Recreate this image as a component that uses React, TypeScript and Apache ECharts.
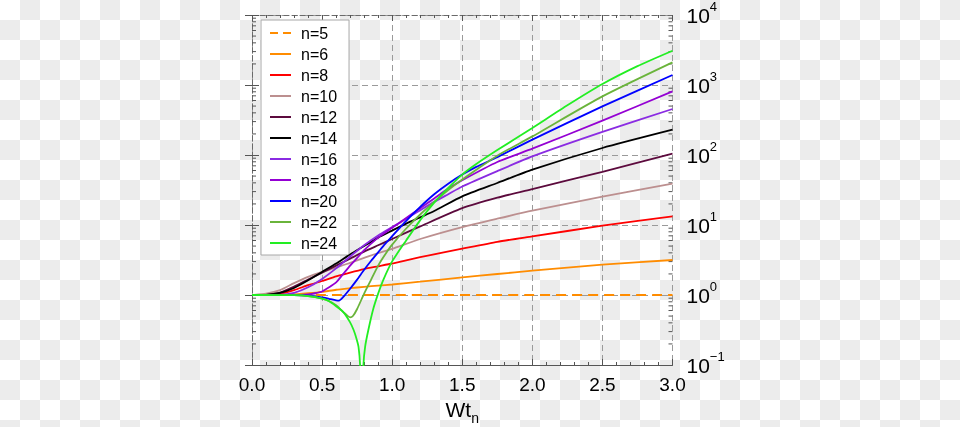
import React, { useEffect, useRef } from 'react';
import * as echarts from 'echarts';

// ---- data (x = W t_n, y = value on log scale) ----
const seriesNames = ['n=5', 'n=6', 'n=8', 'n=10', 'n=12', 'n=14', 'n=16', 'n=18', 'n=20', 'n=22', 'n=24'];
const seriesColors = ['#ff8c00', '#ff8c00', '#ff0000', '#bc8f8f', '#5c0a3d', '#000000', '#8a2be2', '#9400d3', '#0000ff', '#6ab43b', '#22ee22'];

const n5: [number, number][] = [[0, 1], [3, 1]];
const n6: [number, number][] = [[0, 1], [0.1, 1], [0.2, 1.007], [0.3, 1.023], [0.4, 1.059], [0.5, 1.109], [0.6, 1.189], [0.7, 1.25], [0.8, 1.309], [0.9, 1.361], [1.0, 1.413], [1.2, 1.549], [1.5, 1.786], [1.75, 1.995], [2.0, 2.223], [2.5, 2.71], [3.0, 3.162]];
const n8: [number, number][] = [[0, 1], [0.1, 1.005], [0.2, 1.047], [0.3, 1.175], [0.4, 1.38], [0.5, 1.585], [0.6, 1.841], [0.7, 2.089], [0.8, 2.344], [0.9, 2.57], [1.0, 2.818], [1.2, 3.467], [1.5, 4.581], [1.75, 5.754], [2.0, 6.871], [2.5, 9.772], [3.0, 13.27]];
const n10: [number, number][] = [[0, 1], [0.1, 1.047], [0.2, 1.175], [0.3, 1.479], [0.4, 1.82], [0.5, 2.138], [0.6, 2.455], [0.7, 2.884], [0.8, 3.388], [0.9, 3.981], [1.0, 4.571], [1.2, 6.31], [1.5, 9.333], [1.75, 12.3], [2.0, 16.0], [2.5, 25.35], [3.0, 38.9]];
const n12: [number, number][] = [[0, 1], [0.1, 1.007], [0.2, 1.084], [0.3, 1.318], [0.4, 1.66], [0.5, 2.089], [0.6, 2.63], [0.7, 3.311], [0.8, 4.169], [0.9, 5.129], [1.0, 6.31], [1.2, 9.55], [1.5, 17.38], [1.75, 24.55], [2.0, 32.66], [2.5, 57.54], [3.0, 104.5]];
const n14: [number, number][] = [[0, 1], [0.1, 1.007], [0.2, 1.072], [0.3, 1.259], [0.4, 1.622], [0.5, 2.138], [0.6, 2.818], [0.7, 3.802], [0.8, 5.012], [0.9, 6.607], [1.0, 8.318], [1.1, 10.47], [1.2, 12.88], [1.3, 15.85], [1.5, 25.7], [1.75, 39.81], [2.0, 61.66], [2.5, 125.9], [3.0, 229.6]];
const n16: [number, number][] = [[0, 1], [0.2, 1.005], [0.3, 1.072], [0.4, 1.288], [0.5, 1.698], [0.6, 2.399], [0.7, 3.548], [0.8, 5.129], [0.9, 7.079], [1.0, 9.333], [1.1, 12.3], [1.2, 16.22], [1.3, 21.38], [1.4, 27.54], [1.5, 35.48], [1.75, 58.88], [2.0, 95.5], [2.5, 213.8], [3.0, 453.9]];
const n18: [number, number][] = [[0, 1], [0.3, 1], [0.4, 1.023], [0.45, 1.059], [0.5, 1.122], [0.55, 1.288], [0.6, 1.514], [0.65, 1.995], [0.7, 2.63], [0.75, 3.388], [0.8, 4.365], [0.9, 6.607], [1.0, 9.12], [1.1, 12.59], [1.2, 17.38], [1.3, 23.99], [1.4, 33.11], [1.5, 43.65], [1.75, 79.43], [2.0, 123.0], [2.5, 309.0], [3.0, 810.5]];
const n20: [number, number][] = [[0, 1], [0.3, 0.995], [0.4, 0.977], [0.5, 0.923], [0.55, 0.881], [0.6, 0.841], [0.62, 0.832], [0.65, 0.933], [0.7, 1.23], [0.75, 1.66], [0.8, 2.291], [0.85, 3.09], [0.9, 4.074], [0.95, 5.37], [1.0, 6.918], [1.1, 11.48], [1.2, 18.2], [1.3, 27.54], [1.4, 38.9], [1.5, 52.48], [1.6, 67.61], [1.75, 93.33], [2.0, 166.0], [2.5, 494.3], [3.0, 1390]];
const n22: [number, number][] = [[0, 1], [0.3, 0.993], [0.4, 0.966], [0.5, 0.891], [0.55, 0.822], [0.6, 0.716], [0.65, 0.575], [0.7, 0.479], [0.72, 0.501], [0.75, 0.631], [0.8, 1.047], [0.85, 1.66], [0.9, 2.63], [0.95, 3.802], [1.0, 5.248], [1.1, 8.913], [1.2, 14.13], [1.3, 21.38], [1.4, 31.62], [1.5, 44.67], [1.6, 61.66], [1.75, 97.72], [2.0, 184.5], [2.5, 687.1], [3.0, 2104]];
const n24: [number, number][] = [[0, 1], [0.3, 0.993], [0.4, 0.966], [0.5, 0.891], [0.55, 0.813], [0.6, 0.692], [0.65, 0.575], [0.7, 0.407], [0.725, 0.316], [0.745, 0.24], [0.76, 0.182], [0.771, 0.1], [0.783, 0.0158], [0.795, 0.1], [0.807, 0.182], [0.83, 0.316], [0.865, 0.631], [0.9, 1.047], [0.94, 1.698], [1.0, 3.02], [1.1, 6.026], [1.2, 11.75], [1.3, 20.89], [1.4, 33.88], [1.5, 52.48], [1.6, 74.13], [1.75, 117.5], [2.0, 243.2], [2.25, 512.9], [2.5, 1033], [2.75, 1862], [3.0, 3090]];
const seriesData = [n5, n6, n8, n10, n12, n14, n16, n18, n20, n22, n24];

const xMin = 0;
const xMax = 3;
const xInterval = 0.5;
const yMin = 0.1;
const yMax = 10000;
const yDecades = [0.1, 1, 10, 100, 1000];
const yMinorMultipliers = [2, 3, 4, 5, 6, 7, 8, 9];

const FONT = '"Liberation Sans", Arial, Helvetica, sans-serif';
const DASH_ICON = 'path://M0,0h8v2h-8zM13,0h8v2h-8z';

export default function App() {
  const ref = useRef<HTMLDivElement>(null);

  useEffect(() => {
    if (!ref.current) return;
    const chart = echarts.init(ref.current, undefined, { renderer: 'svg' });

    const minorVals: number[] = [];
    yDecades.forEach((d) => yMinorMultipliers.forEach((m) => minorVals.push(m * d)));

    const gridLine = { show: true, lineStyle: { color: '#9a9a9a', type: [6, 4] as any, width: 1 } };
    const borderDashed = { show: true, lineStyle: { color: '#6a6a6a', type: [5, 3] as any, width: 1 } };

    const expLabel = (v: number) => {
      const e = Math.round(Math.log10(v));
      const s = e < 0 ? '\u2212' + Math.abs(e) : String(e);
      return '{b|10}{s|' + s + '}';
    };

    const lineSeries = seriesData.map((d, i) => ({
      name: seriesNames[i],
      type: 'line',
      data: d,
      xAxisIndex: 0,
      yAxisIndex: 0,
      showSymbol: false,
      symbol: 'none',
      smooth: 0.2,
      clip: true,
      z: 3 + i,
      lineStyle: {
        color: seriesColors[i],
        width: 1.8,
        type: i === 0 ? ([10, 6] as any) : 'solid',
      },
      itemStyle: { color: seriesColors[i] },
    }));

    chart.setOption({
      animation: false,
      backgroundColor: 'transparent',
      textStyle: { fontFamily: FONT },
      grid: { left: 252, top: 15, width: 420.5, height: 350, containLabel: false, outerBoundsMode: 'none' },
      legend: {
        data: seriesNames.map((n, i) => ({ name: n, icon: i === 0 ? DASH_ICON : 'rect' })),
        orient: 'vertical',
        left: 261,
        top: 20,
        itemWidth: 21,
        itemHeight: 2,
        itemGap: 5,
        padding: [5, 12, 4, 9],
        backgroundColor: '#ffffff',
        borderColor: '#a8a8a8',
        borderWidth: 1,
        textStyle: { fontSize: 16, lineHeight: 15, color: '#000', fontFamily: FONT, padding: [0, 0, 0, 5] },
      },
      xAxis: [
        {
          type: 'value',
          min: xMin,
          max: xMax,
          interval: xInterval,
          position: 'bottom',
          name: '{w|Wt}{sub|n}',
          nameLocation: 'middle',
          nameGap: 28,
          nameTextStyle: {
            rich: {
              w: { fontSize: 21, color: '#000', fontFamily: FONT, lineHeight: 22, verticalAlign: 'top' },
              sub: { fontSize: 14, color: '#000', fontFamily: FONT, lineHeight: 14, verticalAlign: 'top', padding: [12, 0, 0, 0] },
            },
          },
          axisLine: { show: true, lineStyle: { color: '#555', width: 1 } },
          axisTick: { show: true, inside: true, length: 6, lineStyle: { color: '#555' } },
          minorTick: { show: true, splitNumber: 5, length: 3, lineStyle: { color: '#555' } },
          axisLabel: { show: true, fontSize: 19, color: '#000', margin: 10, fontFamily: FONT, formatter: (v: number) => v.toFixed(1) },
          splitLine: gridLine,
        },
        {
          type: 'value',
          min: xMin,
          max: xMax,
          interval: xInterval,
          position: 'top',
          axisLine: borderDashed,
          axisTick: { show: true, inside: true, length: 6, lineStyle: { color: '#555' } },
          minorTick: { show: true, splitNumber: 5, length: 3, lineStyle: { color: '#555' } },
          axisLabel: { show: false },
          splitLine: { show: false },
        },
      ],
      yAxis: [
        {
          type: 'log',
          logBase: 10,
          min: yMin,
          max: yMax,
          position: 'right',
          axisLine: borderDashed,
          axisTick: { show: true, inside: true, length: 7, lineStyle: { color: '#555' } },
          axisLabel: {
            show: true,
            margin: 14,
            formatter: expLabel,
            rich: {
              b: { fontSize: 21, color: '#000', fontFamily: FONT, lineHeight: 30, verticalAlign: 'bottom', padding: [0, 0, 4, 0] },
              s: { fontSize: 13, color: '#000', fontFamily: FONT, lineHeight: 13, verticalAlign: 'top' },
            },
          },
          splitLine: gridLine,
        },
        {
          type: 'log',
          logBase: 10,
          min: yMin,
          max: yMax,
          position: 'left',
          axisLine: borderDashed,
          axisTick: { show: true, inside: true, length: 7, lineStyle: { color: '#555' } },
          axisLabel: { show: false },
          splitLine: { show: false },
        },
      ],
      series: [
        ...lineSeries,
        {
          type: 'custom',
          name: 'minorTicks',
          xAxisIndex: 0,
          yAxisIndex: 0,
          silent: true,
          clip: false,
          z: 2,
          data: minorVals.map((v) => [xMin, v]),
          renderItem: (params: any, api: any) => {
            const v = api.value(1);
            const l = api.coord([xMin, v]);
            const r = api.coord([xMax, v]);
            return {
              type: 'group',
              children: [
                { type: 'line', shape: { x1: l[0], y1: l[1], x2: l[0] + 4, y2: l[1] }, style: { stroke: '#555', lineWidth: 1 } },
                { type: 'line', shape: { x1: r[0] - 4, y1: r[1], x2: r[0], y2: r[1] }, style: { stroke: '#555', lineWidth: 1 } },
              ],
            };
          },
        },
      ],
    } as any);

    return () => chart.dispose();
  }, []);

  return (
    <div
      style={{
        position: 'fixed',
        left: 0,
        top: 0,
        width: 960,
        height: 427,
        background: 'repeating-conic-gradient(#ececec 0% 25%, #ffffff 0% 50%) 0 0 / 40px 40px',
      }}
    >
      <div ref={ref} style={{ width: 960, height: 427 }} />
    </div>
  );
}
